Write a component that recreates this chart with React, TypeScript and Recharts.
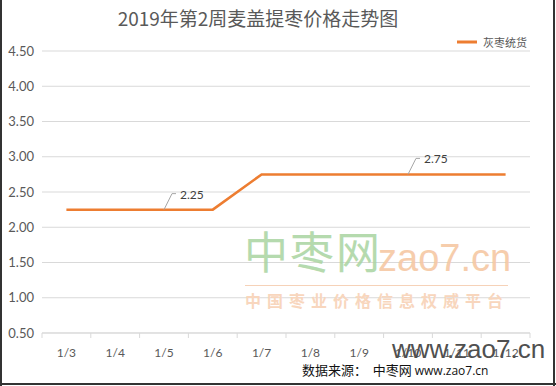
import { CartesianGrid, Line, LineChart, XAxis, YAxis } from "recharts";

const dates = ["1/3", "1/4", "1/5", "1/6", "1/7", "1/8", "1/9", "1/10", "1/11", "1/12"];
const huizaoPrices = [2.25, 2.25, 2.25, 2.25, 2.75, 2.75, 2.75, 2.75, 2.75, 2.75];
const labelledDates = ["1/5", "1/10"];
const yTicks = [0.5, 1, 1.5, 2, 2.5, 3, 3.5, 4, 4.5];

const data = dates.map((d, i) => ({ date: d, price: huizaoPrices[i] }));

const W = 556;
const H = 386;
const LEFT = 42;
const RIGHT = 26;
const HALF_BAND = (W - LEFT - RIGHT) / dates.length / 2;
const GRAY = "#595959";
const ORANGE = "#ED7D31";
const NUM_FONT = "Lato, 'Noto Sans', sans-serif";
const CJK_FONT = "'Noto Sans CJK SC', sans-serif";

function DateTick(props: any) {
  const { x, y, payload, index } = props;
  const last = index === dates.length - 1;
  return (
    <g>
      <line x1={x - HALF_BAND} x2={x - HALF_BAND} y1={y - 8} y2={y - 3} stroke="#d9d9d9" />
      {last && <line x1={x + HALF_BAND} x2={x + HALF_BAND} y1={y - 8} y2={y - 3} stroke="#d9d9d9" />}
      <text x={x} y={y + 16} textAnchor="middle" fill={GRAY} fontSize={12} fontFamily={NUM_FONT}>
        {payload.value}
      </text>
    </g>
  );
}

function LeaderLabel(props: any) {
  const { x, y, value, index } = props;
  if (!labelledDates.includes(dates[index])) return null;
  return (
    <g>
      <polyline
        points={`${x},${y} ${x + 8},${y - 16} ${x + 12},${y - 16}`}
        fill="none"
        stroke="#a6a6a6"
        strokeWidth={1}
      />
      <text x={x + 16} y={y - 11} fill="#404040" fontSize={12} fontFamily={NUM_FONT}>
        {value.toFixed(2)}
      </text>
    </g>
  );
}

export default function App() {
  return (
    <div style={{ position: "absolute", left: 0, top: 0, width: W, height: H, background: "#fff", overflow: "hidden" }}>
      <div
        style={{
          position: "absolute", left: 0, top: 4, width: 516, textAlign: "center",
          fontFamily: CJK_FONT, fontSize: 19, color: GRAY,
        }}
      >
        2019年第2周麦盖提枣价格走势图
      </div>
      <div
        style={{
          position: "absolute", right: 29, top: 34, display: "flex", alignItems: "center",
          fontFamily: CJK_FONT, fontSize: 11, color: GRAY,
        }}
      >
        <svg width={20} height={6}><line x1={0} x2={20} y1={3} y2={3} stroke={ORANGE} strokeWidth={3} /></svg>
        <span style={{ marginLeft: 6 }}>灰枣统货</span>
      </div>
      <LineChart
        width={W}
        height={H}
        data={data}
        margin={{ top: 51, right: RIGHT, bottom: 0, left: 0 }}
        style={{ position: "absolute", left: 0, top: 0 }}
      >
        <CartesianGrid vertical={false} stroke="#d9d9d9" />
        <XAxis
          dataKey="date"
          axisLine={{ stroke: "#d9d9d9" }}
          tickLine={false}
          tick={<DateTick />}
          interval={0}
          height={53}
          padding={{ left: HALF_BAND, right: HALF_BAND }}
        />
        <YAxis
          width={LEFT}
          domain={[0.5, 4.5]}
          ticks={yTicks}
          axisLine={false}
          tickLine={false}
          tickFormatter={(v: number) => v.toFixed(2)}
          tick={{ fill: GRAY, fontSize: 13, fontFamily: NUM_FONT }}
        />
        <Line
          type="linear"
          dataKey="price"
          name="灰枣统货"
          stroke={ORANGE}
          strokeWidth={2.5}
          dot={false}
          isAnimationActive={false}
          label={<LeaderLabel />}
        />
      </LineChart>
      {/* watermark */}
      <div style={{ position: "absolute", left: 244, top: 222, fontFamily: CJK_FONT, fontSize: 44, color: "#a9d4a0", letterSpacing: 2, lineHeight: "56px", opacity: 0.85 }}>
        中枣网
      </div>
      <div style={{ position: "absolute", left: 378, top: 236, fontFamily: "'Liberation Sans', sans-serif", fontSize: 38, color: "#f6c8a4", lineHeight: "44px", opacity: 0.9 }}>
        zao7.cn
      </div>
      <div style={{ position: "absolute", left: 245, top: 285, width: 263, height: 1, background: "#f6d2b8" }} />
      <div style={{ position: "absolute", left: 245, top: 289, fontFamily: CJK_FONT, fontSize: 16, fontWeight: 700, color: "#f8d6bd", letterSpacing: 6, lineHeight: "22px" }}>
        中国枣业价格信息权威平台
      </div>
      <div style={{ position: "absolute", left: 392, top: 333, fontFamily: "'Liberation Sans', sans-serif", fontSize: 26, color: "#505050", lineHeight: "32px" }}>
        www.zao7.cn
      </div>
      <div style={{ position: "absolute", left: 302, top: 360, fontFamily: CJK_FONT, fontSize: 13, color: "#111", lineHeight: "20px", whiteSpace: "pre" }}>
        数据来源：  中枣网 <span style={{ fontFamily: "'Open Sans', sans-serif", fontSize: 12 }}>www.zao7.cn</span>
      </div>
      {/* frame */}
      <div style={{ position: "absolute", left: 0, top: 0, width: 2, height: H, background: "#333" }} />
      <div style={{ position: "absolute", left: 553, top: 0, width: 2, height: H, background: "#333" }} />
      <div style={{ position: "absolute", left: 0, top: 383, width: W, height: 2, background: "#333" }} />
    </div>
  );
}
